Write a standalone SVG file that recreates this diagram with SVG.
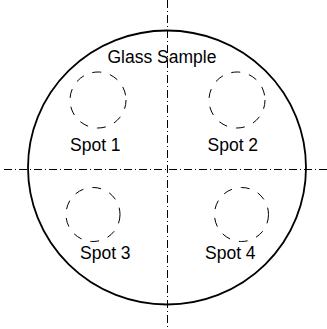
<svg xmlns="http://www.w3.org/2000/svg" width="327" height="329" viewBox="0 0 327 329">
<style>
.axis{stroke:#000;stroke-width:1;stroke-dasharray:8 3 1 3;fill:none}
.outline{stroke:#000;stroke-width:1.8;fill:none}
.spot{stroke:#000;stroke-width:1;stroke-dasharray:9 9;fill:none}
text{font-family:"Liberation Sans",Arial,sans-serif;font-size:17.5px;fill:#000}
</style>
<rect width="327" height="329" fill="#fff"/>
<g id="sample">
<ellipse class="outline" cx="167" cy="167.5" rx="139" ry="137"/>
<text x="107.5" y="62.7">Glass Sample</text>
</g>
<g id="connectors">
<line class="axis" x1="167.5" y1="0" x2="167.5" y2="329"/>
<line class="axis" x1="4" y1="169.5" x2="327" y2="169.5"/>
</g>
<g id="spot1">
<circle class="spot" cx="98" cy="100" r="28"/>
<text x="70" y="151">Spot 1</text>
</g>
<g id="spot2">
<circle class="spot" cx="237" cy="100" r="28"/>
<text x="207.5" y="151">Spot 2</text>
</g>
<g id="spot3">
<circle class="spot" cx="93" cy="214.5" r="27"/>
<text x="80" y="258.5">Spot 3</text>
</g>
<g id="spot4">
<circle class="spot" cx="241.5" cy="214.5" r="27"/>
<text x="205" y="258.5">Spot 4</text>
</g>
</svg>
